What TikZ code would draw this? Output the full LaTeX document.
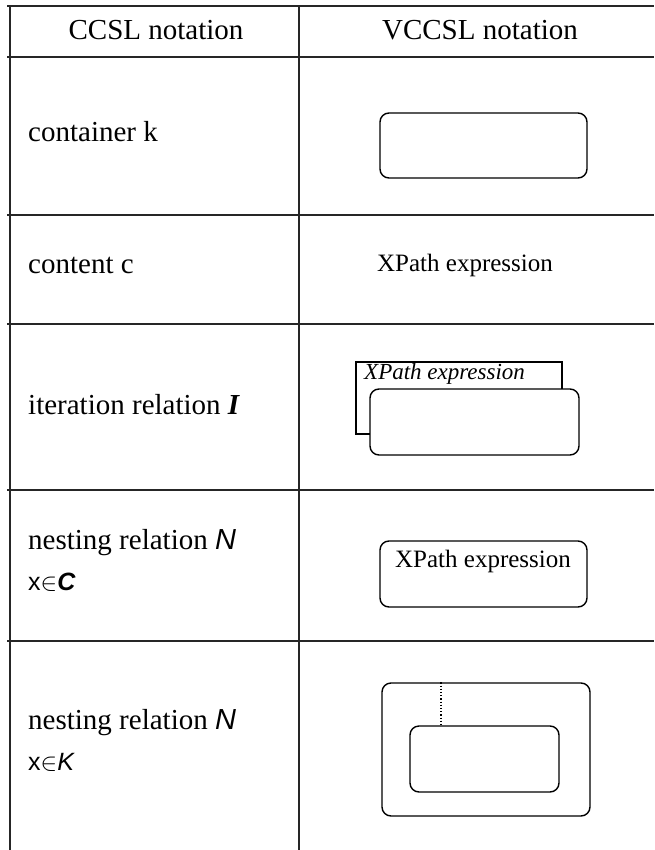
\documentclass[tikz,border=0pt]{standalone}
\usepackage{fontspec}
\setmainfont{Liberation Serif}
\newfontfamily\sansf{Liberation Sans}
\begin{document}
\begin{tikzpicture}[x=1pt,y=-1pt,
  grid/.style={line width=1.4pt, black!85},
  lbl/.style={anchor=west, inner sep=0pt, font=\fontsize{29}{34}\selectfont},
  hdr/.style={inner sep=0pt, font=\fontsize{29}{34}\selectfont},
  vbox/.style={draw, line width=1.4pt, rounded corners=9pt, fill=white, inner sep=0pt},
  sbox/.style={draw, line width=1.2pt, fill=white, inner sep=0pt},
  xp/.style={inner sep=0pt, font=\fontsize{25}{30}\selectfont}]
\useasboundingbox (0,0) rectangle (654,850);
% grid
\draw[grid] (7,6) -- (654,6);
\draw[grid] (7,57) -- (654,57);
\draw[grid] (7,215) -- (654,215);
\draw[grid] (7,324) -- (654,324);
\draw[grid] (7,490) -- (654,490);
\draw[grid] (7,641) -- (654,641);
\draw[grid] (10,6) -- (10,850);
\draw[grid] (299,6) -- (299,850);
% header
\node[hdr] (h1) at (156,30) {CCSL notation};
\node[hdr] (h2) at (480,30) {VCCSL notation};
% left labels
\node[lbl] (l1) at (28,132) {container k};
\node[lbl] (l2) at (28,265) {content c};
\node[lbl] (l3) at (28,405) {iteration relation {\bfseries\itshape I}};
\node[lbl] (l4) at (28,543) {nesting relation {\sansf\itshape N}};
\node[lbl] (l4b) at (28,582) {{\sansf\fontsize{25}{30}\selectfont x$\in$\bfseries\itshape C}};
\node[lbl] (l5) at (28,723) {nesting relation {\sansf\itshape N}};
\node[lbl] (l5b) at (28,762) {{\sansf\fontsize{25}{30}\selectfont x$\in$\itshape K}};
% container
\node[vbox, minimum width=207, minimum height=65] (k) at (483.5,145.5) {};
% content
\node[xp] (c) at (465,265) {XPath expression};
% iteration
\node[sbox, minimum width=206, minimum height=72] (ib) at (459,398) {};
\node[vbox, minimum width=209, minimum height=66] (if) at (474.5,422) {};
\node[inner sep=0pt, anchor=west, font=\fontsize{23}{27}\selectfont\itshape] (it) at (364,374) {XPath expression};
% nesting C
\node[vbox, minimum width=207, minimum height=66] (nc) at (483.5,574) {};
\node[xp] (nct) at (483,561) {XPath expression};
% nesting K
\node[vbox, minimum width=208, minimum height=133] (no) at (486,749.5) {};
\node[vbox, minimum width=149, minimum height=66] (ni) at (484.5,759) {};
\coordinate (d1) at (no.north -| 441,0);
\coordinate (d2) at (ni.north -| 441,0);
\draw[line width=1.2pt, dotted] (d1) -- (d2);
\end{tikzpicture}
\end{document}
